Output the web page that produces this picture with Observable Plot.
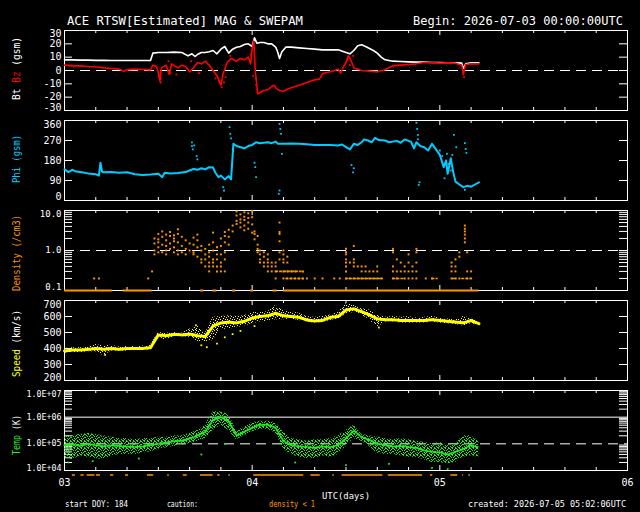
<!DOCTYPE html>
<html>
<head>
<meta charset="utf-8">
<title>ACE RTSW MAG &amp; SWEPAM</title>
<script src="https://cdn.jsdelivr.net/npm/d3@7"></script>
<script src="https://cdn.jsdelivr.net/npm/@observablehq/plot@0.6"></script>
<style>
  html, body { margin: 0; padding: 0; background: #000; }
  #chart { position: relative; width: 640px; height: 512px; background: #000; overflow: hidden; }
  #chart svg { position: absolute; left: 0; }
</style>
</head>
<body>
<div id="chart"></div>
<script>
// ---------- time axis: hours after 2026-07-03 00:00 UTC ----------
const dayTickHours = [0, 24, 48, 72];
const dayTickLabels = ["03", "04", "05", "06"];

// ---------- y-axis tick labels ----------
const btLabelValues = [-30, -20, -10, 0, 10, 20, 30];
const btLabelTexts = ["-30", "-20", "-10", "0", "10", "20", "30"];
const phiLabelValues = [0, 90, 180, 270, 360];
const phiLabelTexts = ["0", "90", "180", "270", "360"];
const densityLabelValues = [0.1, 1, 10];
const densityLabelTexts = ["0.1", "1.0", "10.0"];
const speedLabelValues = [200, 300, 400, 500, 600, 700];
const speedLabelTexts = ["200", "300", "400", "500", "600", "700"];
const tempLabelValues = [1e4, 1e5, 1e6, 1e7];
const tempLabelTexts = ["1.0E+04", "1.0E+05", "1.0E+06", "1.0E+07"];

// ---------- magnetic field Bt (nT), [hour, value] ----------
const btSeries = [[0,8],[1,8],[2,7.8],[3,7.8],[4,7.6],[5,7.6],[6,7.5],[7,7.5],[8,7.5],[9,7.5],[10,7.5],[11,7.5],
  [11.3,13],[12,13.5],[13,13.5],[14,13.8],[15,13.5],[15.8,11],[16.3,12.5],[16.7,10.5],[17,12],[17.5,13.5],[18,13.5],
  [18.5,14],[19,15],[19.5,12.5],[20,16],[20.5,18],[21,13],[21.5,16],[22,17.5],[22.5,18],[23,19.5],[23.5,20],[24,18],
  [24.3,24.5],[24.6,20.5],[25,21],[25.5,21],[26,20],[26.5,20],[27,17.5],[27.2,15],[27.5,9],[27.8,14],[28.3,17.5],
  [29,17.5],[30,17],[31,16.5],[32,16],[33,15.5],[34,15.5],[35,15.5],[36,13.5],[36.5,12.5],[37,15],[37.5,18.5],
  [38,19.3],[38.5,18],[39,16.5],[39.5,15],[40,13],[40.5,10],[41,8],[42,7],[43,6.75],[44,6.5],[45,6.25],[46,6.25],
  [47,6],[48,6],[49,5.75],[50,5.75],[50.8,5.5],[51,1.5],[51.3,5],[52,5.8],[53,5.8]];

// ---------- magnetic field Bz GSM (nT), [hour, value] ----------
const bzSeries = [[0,4],[1,3.5],[2,3.5],[3,3],[4,2.8],[5,2],[6,1.5],[7,1],[7.6,-0.5],[8,0.5],[9,1],[10,0.8],[11,0.5],
  [11.3,4],[11.8,3],[12,-2],[12.2,-8],[12.4,2],[13,4],[13.4,-3],[13.7,5],[14.5,2],[15,4],[15.5,3],[16,-1],[16.5,2],
  [17,6],[17.5,5],[18,7],[18.5,4],[19,0],[19.5,-4],[20,-11],[20.3,-2],[20.8,6],[21.3,9],[22,7],[22.5,9],[23,8],
  [23.5,10],[23.8,5],[24,16],[24.2,22],[24.4,0],[24.7,-17.5],[25,-16.5],[25.5,-15],[26,-14.5],[26.5,-12],[26.8,-11],
  [27.2,-14],[27.5,-15],[28,-15.5],[28.5,-14],[29,-13],[30,-11],[31,-9],[32,-7],[32.6,-6.5],[33,-2.5],[33.5,-1.5],
  [34,-1],[34.5,0],[35,1],[35.3,-2],[35.7,3],[36,6],[36.3,11],[36.6,8],[37,2],[37.5,1],[38,0],[39,-0.5],[40,-1],
  [40.5,0],[41,0.5],[41.5,2],[42,3.5],[43,4],[44,4.5],[45,5],[46,6],[47,6],[48,5.5],[49,5.75],[50,5.5],[50.8,4],
  [51,-3],[51.3,4.5],[52,5],[53,5]];
const bzScatter = [[12.1,-4],[12.3,-6],[12.3,-9],[13.3,7],[13.5,-2],[14.3,-3],[16.2,7],[17.2,-2],[19.3,-6],[19.8,-8],
  [20.1,-12.5],[20.4,-9],[20.6,-5],[21.2,11],[23.8,12],[24.1,-4],[24.5,-6],[24.5,-11],[36.2,8],[36.5,4],[36.9,11],[51.1,-5]];

// ---------- IMF direction Phi GSM (deg), [hour, value] ----------
const phiSeries = [[0,140],[0.5,128],[1,138],[1.5,130],[2,128],[3,122],[4,118],[4.4,112],[4.6,170],[4.8,130],[5,127],
  [6,128],[7,125],[8,127],[9,118],[10,115],[11,117],[12,120],[12.5,105],[12.8,125],[13.5,122],[14.5,124],[15.5,128],
  [16,135],[16.5,142],[17,138],[17.5,145],[18,140],[18.5,150],[19,148],[19.3,125],[19.7,105],[20,112],[20.5,95],
  [21,110],[21.3,95],[21.6,255],[22,245],[22.5,240],[23,235],[23.5,245],[24,250],[24.5,262],[25,258],[26,262],
  [26.5,258],[27,265],[27.3,255],[28,255],[29,257],[30,255],[31,253],[32,250],[33,250],[34,250],[35,248],[35.5,252],
  [36,240],[36.5,230],[37,255],[37.5,250],[38,262],[38.3,275],[38.8,270],[39.3,262],[39.7,282],[40.2,272],[41,270],
  [41.5,262],[42,265],[42.5,268],[43,260],[43.5,275],[44,268],[44.3,265],[44.7,235],[45,262],[45.5,245],[46,240],
  [46.5,225],[47,255],[47.5,230],[48,205],[48.5,150],[48.8,180],[49,120],[49.4,190],[49.7,130],[50,85],[50.5,72],
  [51,60],[51.5,66],[52,62],[52.5,72],[53,82]];
const phiScatter = [[16.3,262],[16.3,245],[16.4,230],[16.6,248],[16.9,200],[17,185],[20.3,60],[20.4,45],[21.1,330],
  [21.2,300],[21.3,280],[24.3,170],[24.4,150],[24.5,105],[27.4,30],[27.5,45],[27.5,345],[27.6,322],[27.7,300],
  [27.8,210],[36.7,160],[36.9,127],[37,145],[45,350],[45.1,322],[45.2,295],[45.2,275],[45.3,70],[45.4,82],[48,225],
  [48.3,200],[48.6,100],[48.9,210],[49.1,165],[49.4,135],[49.6,205],[49.8,295],[50.1,240],[51.2,258],[51.3,232],
  [51.4,214],[51.2,48]];

// ---------- proton density (/cm3): [hour, [values at that time]] ----------
const densitySamples = [[3.8,[0.2]],[4.4,[0.2]],[10.7,[0.2]],[11.2,[0.3]],
  [11.5,[2.0,1.5,1.0,0.8]],[12,[2.6,1.9,1.6,1.2,0.9]],[12.5,[3.0,2.2,1.4,0.9]],[13,[2.5,1.8,1.3,1.0,0.8]],
  [13.5,[2.9,2.3,1.5,1.1]],[14,[2.4,2.0,1.7,1.2,0.9]],[14.5,[3.4,2.6,1.6,1.0,0.8]],[15,[2.2,1.3,0.9]],
  [15.5,[1.8,1.1,0.8]],[16,[1.5,1.0]],[16.5,[2.1,1.4,0.9,0.8]],[17,[2.5,1.8,1.2,0.7]],[17.5,[1.3,1.0,0.6,0.5]],
  [18,[1.1,0.8,0.6,0.4]],[18.5,[1.4,0.9,0.7,0.5,0.4,0.3]],[19,[2.8,1.6,1.0,0.6,0.5,0.4]],[19.5,[1.2,0.8,0.6,0.4,0.3]],
  [20,[2.0,1.3,0.8,0.5,0.4,0.3]],[20.5,[2.9,2.3,1.6,0.9,0.6,0.3]],[21,[3.3,2.2,1.4]],[21.5,[4.2,3.0]],
  [22,[9.5,7.5,5.5,4.6]],[22.5,[8.0,6.0,5.0,3.8]],[23,[9.0,7.0,5.8,4.2,3.2]],[23.5,[8.5,6.5,5.0,3.5]],
  [24,[9.8,6.8,4.5,2.8]],[24.3,[3.0,2.6,1.9]],[24.7,[2.3,1.4,1.1,0.9]],[25,[1.0,0.8,0.6,0.5]],[25.5,[0.9,0.7,0.5,0.4]],
  [26,[0.8,0.6,0.5,0.4,0.3]],[26.5,[0.5,0.4,0.3]],[27,[0.5,0.4,0.3,0.2]],[27.5,[5.0,2.9,2.6,1.7,0.9,0.6]],
  [28,[1.0,0.8,0.6,0.5,0.3,0.2]],[28.5,[0.7,0.5,0.3,0.2]],[29,[0.3,0.2]],[29.5,[0.3,0.2]],[30,[0.2]],[30.5,[0.3,0.2]],
  [31,[0.2]],[32,[0.2]],[33,[0.2]],[34.5,[0.2]],[35.2,[0.2]],[36,[1.1,0.9,0.8,0.6,0.5,0.4,0.3,0.2]],[36.5,[0.5,0.2]],
  [37,[1.3,0.6,0.5,0.4,0.2]],[37.5,[0.4,0.2]],[38,[0.4,0.3,0.2]],[38.5,[0.4,0.3,0.2]],[39,[0.3,0.2]],[39.5,[0.3,0.2]],
  [40,[0.4,0.3,0.2]],[40.5,[0.2]],[42,[1.1,0.9,0.4,0.3,0.2]],[42.5,[0.6,0.3,0.2]],[43,[0.5,0.3]],[43.5,[0.4,0.3,0.2]],
  [44,[0.8,0.5,0.3,0.2]],[44.5,[0.4,0.3,0.2]],[45,[1.1,0.9,0.5,0.3,0.2]],[46.2,[0.2]],[47,[0.2]],
  [49.5,[0.5,0.4,0.3,0.2]],[50,[0.6,0.4,0.3,0.2]],[50.5,[0.9,0.7,0.2]],[51.2,[4.2,3.5,3.0,2.5,2.0,1.6]],
  [51.5,[0.9,0.3,0.2]],[52,[0.3,0.2]]];
// steady runs of density readings: [start hour, end hour, value]
const densityRuns = [[28.3,30.6,0.2],[27,30.4,0.3],[36,40.8,0.2],[42,43.6,0.2],[47,47.8,0.2],[49.6,50.2,0.2],[50.8,52,0.2]];
// readings at or below the 0.1 floor: [start hour, end hour]
const densityFloorSpans = [[0,6.1],[7.5,11.2],[17.4,17.8],[19,19.5],[21.5,21.9],[23.8,24.2],[26.7,27.2],[28,53]];

// ---------- bulk speed (km/s), one value per hour from 00 UTC ----------
const speedMid = [385,390,390,395,400,395,400,395,400,400,400,405,485,480,488,485,490,480,475,540,560,565,560,570,
  590,600,605,620,605,600,595,578,572,575,595,600,640,648,630,610,585,580,580,575,575,575,575,580,575,570,565,560,575,555];
const speedLow = [370,375,375,380,380,355,385,385,385,390,388,392,470,450,475,475,470,445,440,450,520,520,530,540,
  555,565,570,580,580,585,575,565,560,562,575,585,615,625,610,580,530,565,565,560,560,560,560,565,560,555,550,540,555,545];
const speedHigh = [400,405,405,410,425,415,420,410,412,412,415,420,500,495,500,495,520,545,495,595,600,605,600,605,
  625,625,630,669,640,630,620,600,595,600,610,625,680,670,650,640,610,595,600,595,600,590,595,600,590,585,580,600,590,570];
const speedScatter = [[5.2,360],[16.8,545],[17.5,420],[18.2,408],[19.5,431],[20.5,470],[21.5,490],[22.5,510],[24.3,540],[40.2,531]];

// ---------- ion temperature, log10(K), one value per hour from 00 UTC ----------
const tempLogMid = [4.95,4.98,4.93,5.0,4.95,4.9,4.95,4.92,4.9,4.88,4.9,4.95,5.0,5.05,5.1,5.12,5.2,5.3,5.45,5.9,6.0,5.85,
  5.3,5.45,5.6,5.72,5.72,5.6,5.1,4.95,4.9,4.88,4.85,4.9,4.87,4.95,5.2,5.5,5.25,5.15,5.0,4.95,4.9,4.92,4.88,4.85,4.75,
  4.7,4.68,4.6,4.7,4.8,4.95,4.85];
const tempLogLow = [4.5,4.4,4.55,4.5,4.45,4.4,4.55,4.6,4.6,4.6,4.65,4.7,4.8,4.85,4.9,4.95,5.0,5.1,5.2,5.5,5.7,5.5,5.15,
  5.3,5.45,5.55,5.55,5.4,4.8,4.6,4.5,4.45,4.45,4.55,4.5,4.6,4.9,5.2,5.1,4.9,4.65,4.6,4.6,4.55,4.5,4.5,4.4,4.3,4.3,
  4.25,4.3,4.5,4.55,4.5];
const tempLogHigh = [5.3,5.3,5.35,5.4,5.35,5.3,5.25,5.2,5.2,5.15,5.2,5.2,5.25,5.25,5.3,5.3,5.4,5.5,5.7,6.2,6.2,6.1,5.5,
  5.6,5.8,5.85,5.85,5.8,5.45,5.2,5.15,5.1,5.15,5.15,5.2,5.3,5.5,5.7,5.35,5.3,5.25,5.2,5.15,5.2,5.15,5.1,5.05,5.0,
  5.05,4.95,5.0,5.3,5.3,5.1];
const tempLogScatter = [[0.5,4.3],[3.6,4.35],[9.5,4.45],[17.5,4.6],[20.5,5.0],[29.5,4.3],[36,4.2],[41.5,4.25],[47,4.1],[49,4.05]];

// ---------- times flagged with density < 1: [start hour, end hour] ----------
const cautionSpans = [[1.0,1.4],[2.1,2.5],[2.9,3.9],[4.1,4.6],[5.9,6.3],[7.8,8.2],[10.6,11.4],[13.2,13.4],[15.2,15.7],
  [17.4,19.0],[19.6,19.9],[21.0,21.2],[24.2,30.6],[31.5,32.7],[34.3,34.5],[35.5,40.7],[41.4,45.8],[46.8,47.1],
  [49.4,50.3],[50.9,51.0],[51.7,51.9]];

// ---------- layout and colours ----------
const W = 640, ML = 64, MR = 13, PH = 80, PAD = 12;
const FW = W - ML - MR;
const FONT = "'DejaVu Sans Mono', monospace";
const RED = "#ff0000", CYAN = "#00ccff", ORANGE = "#ff9600", YELLOW = "#ffff00", GREEN = "#22ee22";
const chart = document.getElementById("chart");

// speckled fills used for the scatter bands of speed and temperature
const defs = d3.select(chart).append("svg").attr("width", 0).attr("height", 0).style("position", "absolute");
function speckle(id, color, cells) {
  const p = defs.append("pattern").attr("id", id).attr("patternUnits", "userSpaceOnUse")
    .attr("width", 7).attr("height", 7).attr("shape-rendering", "crispEdges");
  for (const [x, y] of cells) {
    p.append("rect").attr("x", x).attr("y", y).attr("width", 1).attr("height", 1).attr("fill", color);
  }
}
speckle("dotsYellow", YELLOW, [[0,0],[4,0],[2,1],[6,2],[1,3],[3,3],[5,4],[0,5],[3,6],[6,6]]);
speckle("dotsGreen", GREEN, [[0,0],[1,0],[4,0],[2,1],[6,1],[3,2],[5,2],[0,3],[1,3],[4,4],[6,4],[2,5],[5,5],[0,6],[3,6],[4,6]]);

const hourTicks = d3.range(4, 72, 4).filter(h => h % 24 !== 0);
const dayTicks = dayTickHours.slice(1, -1);

// frame, inward ticks on all four sides and the y tick labels
function frameMarks(yTicks, labelValues, labelTexts, fontSize, topDy, bottomDy) {
  const lab = labelValues.map((v, i) => ({v, t: labelTexts[i]}));
  const n = lab.length;
  const txt = {y: "v", text: "t", frameAnchor: "left", textAnchor: "end", dx: -3, fill: "white", fontSize};
  return [
    Plot.frame({stroke: "white"}),
    Plot.tickX(hourTicks, {x: d => d, insetBottom: PH - 3, stroke: "white"}),
    Plot.tickX(hourTicks, {x: d => d, insetTop: PH - 3, stroke: "white"}),
    Plot.tickX(dayTicks, {x: d => d, insetBottom: PH - 5, stroke: "white"}),
    Plot.tickX(dayTicks, {x: d => d, insetTop: PH - 5, stroke: "white"}),
    Plot.tickY(yTicks, {y: d => d, insetRight: FW - 8, stroke: "white"}),
    Plot.tickY(yTicks, {y: d => d, insetLeft: FW - 8, stroke: "white"}),
    Plot.text(lab.slice(1, n - 1), txt),
    Plot.text(lab.slice(n - 1), {...txt, dy: topDy}),
    Plot.text(lab.slice(0, 1), {...txt, dy: bottomDy})
  ];
}

function addPanel(top, yOptions, marks) {
  const svg = Plot.plot({
    width: W, height: PH + 2 * PAD,
    marginLeft: ML, marginRight: MR, marginTop: PAD, marginBottom: PAD,
    x: {domain: [0, 72], axis: null},
    y: {...yOptions, axis: null},
    style: {background: "transparent", color: "white", fontFamily: FONT},
    marks
  });
  svg.style.top = (top - PAD) + "px";
  chart.appendChild(svg);
}

const logMinor = (lo, hi) => d3.range(Math.log10(lo), Math.log10(hi))
  .flatMap(e => d3.range(1, 10).map(k => k * 10 ** e)).filter(v => v > lo);

const xy = {x: d => d[0], y: d => d[1]};
const hourly = speedMid.map((_, i) => i);

// Bt / Bz
addPanel(30, {domain: [-30, 30]}, [
  ...frameMarks([-20, -10, 0, 10, 20], btLabelValues, btLabelTexts, 10, 3.5, -3),
  Plot.ruleY([0], {stroke: "white", strokeDasharray: "10,6"}),
  Plot.line(btSeries, {...xy, stroke: "white", strokeWidth: 1.6}),
  Plot.line(bzSeries, {...xy, stroke: RED, strokeWidth: 1.6}),
  Plot.dot(bzScatter, {...xy, symbol: "square", r: 1, fill: RED})
]);

// Phi
addPanel(120, {domain: [0, 360]}, [
  ...frameMarks([90, 180, 270], phiLabelValues, phiLabelTexts, 10, 4, -3.3),
  Plot.line(phiSeries, {...xy, stroke: CYAN, strokeWidth: 2}),
  Plot.dot(phiScatter, {...xy, symbol: "square", r: 1, fill: CYAN})
]);

// Density
const densityPoints = densitySamples.flatMap(([h, vs]) => vs.map(v => [h, v]));
addPanel(210, {type: "log", domain: [0.1, 10]}, [
  ...frameMarks(logMinor(0.1, 10), densityLabelValues, densityLabelTexts, 9, 4, -3),
  Plot.ruleY([1], {stroke: "white", strokeDasharray: "10,6"}),
  Plot.ruleY(densityFloorSpans, {x1: d => d[0], x2: d => d[1], y: () => 0.1, stroke: ORANGE, strokeWidth: 2}),
  Plot.ruleY(densityRuns, {x1: d => d[0], x2: d => d[1], y: d => d[2], stroke: ORANGE, strokeWidth: 1.6, strokeDasharray: "3,1"}),
  Plot.dot(densityPoints, {...xy, symbol: "square", r: 1.1, fill: ORANGE})
]);

// Speed
addPanel(300, {domain: [200, 700]}, [
  ...frameMarks([300, 400, 500, 600], speedLabelValues, speedLabelTexts, 10, 4, -3),
  Plot.areaY(hourly, {x: i => i, y1: i => speedLow[i], y2: i => speedHigh[i], fill: "url(#dotsYellow)"}),
  Plot.line(hourly, {x: i => i, y: i => speedMid[i], stroke: YELLOW, strokeWidth: 3, strokeDasharray: "4,1"}),
  Plot.dot(speedScatter, {...xy, symbol: "square", r: 1, fill: YELLOW})
]);

// Temperature
addPanel(390, {type: "log", domain: [1e4, 1e7]}, [
  ...frameMarks(logMinor(1e4, 1e7).filter(v => v !== 1e5 && v !== 1e6), tempLabelValues, tempLabelTexts, 8.3, 4, -2),
  Plot.ruleY([1e6], {stroke: "white"}),
  Plot.ruleY([1e5], {stroke: "white", strokeDasharray: "10,6"}),
  Plot.areaY(hourly, {x: i => i, y1: i => 10 ** tempLogLow[i], y2: i => 10 ** tempLogHigh[i], fill: "url(#dotsGreen)"}),
  Plot.line(hourly, {x: i => i, y: i => 10 ** tempLogMid[i], stroke: GREEN, strokeWidth: 2, strokeDasharray: "2,2"}),
  Plot.dot(tempLogScatter, {x: d => d[0], y: d => 10 ** d[1], symbol: "square", r: 1, fill: GREEN})
]);

// strip under the last panel: density caution flags and day labels
const strip = Plot.plot({
  width: W, height: 40, marginLeft: ML, marginRight: MR, marginTop: 0, marginBottom: 0,
  x: {domain: [0, 72], axis: null},
  y: {domain: [0, 40], range: [0, 40], axis: null},
  style: {background: "transparent", color: "white", fontFamily: FONT},
  marks: [
    Plot.ruleY(cautionSpans, {x1: d => d[0], x2: d => d[1], y: () => 4.5, stroke: ORANGE, strokeWidth: 1.5}),
    Plot.text(dayTickHours, {x: d => d, y: () => 12, text: (d, i) => dayTickLabels[i], fill: "white", fontSize: 10})
  ]
});
strip.style.top = "470px";
chart.appendChild(strip);

// titles, axis names and footer
const ov = d3.select(chart).append("svg").attr("width", W).attr("height", 512)
  .style("top", "0px").style("pointer-events", "none")
  .attr("font-family", FONT).attr("fill", "white");
function label(x, y, parts, size, length, rotate) {
  const t = ov.append("text").attr("font-size", size)
    .attr("textLength", length).attr("lengthAdjust", "spacingAndGlyphs");
  if (rotate) t.attr("transform", `translate(${x},${y}) rotate(-90)`).attr("text-anchor", "middle");
  else t.attr("x", x).attr("y", y);
  for (const [s, c] of parts) t.append("tspan").attr("fill", c).text(s);
}
label(67, 25, [["ACE RTSW[Estimated] MAG & SWEPAM", "white"]], 12.3, 236);
label(413, 25, [["Begin: 2026-07-03 00:00:00UTC", "white"]], 12.3, 210);
label(20, 68.5, [["Bt ", "white"], ["Bz", RED], [" (gsm)", "white"]], 10, 63, true);
label(20, 159, [["Phi (gsm)", CYAN]], 10, 48, true);
label(20, 253, [["Density (/cm3)", ORANGE]], 10, 76, true);
label(20, 343.5, [["Speed", YELLOW], [" (km/s)", "white"]], 10, 67, true);
label(20, 435, [["Temp", GREEN], [" (K)", "white"]], 10, 40, true);
label(322, 499, [["UTC(days)", "white"]], 9.5, 48);
label(65, 507, [["start DOY: 184", "white"]], 8.5, 63);
label(167, 507, [["caution:", "white"]], 8.5, 31);
label(269, 507, [["density < 1", ORANGE]], 8.5, 46);
label(468, 507, [["created: 2026-07-05 05:02:06UTC", "white"]], 8.5, 158);
</script>
</body>
</html>
